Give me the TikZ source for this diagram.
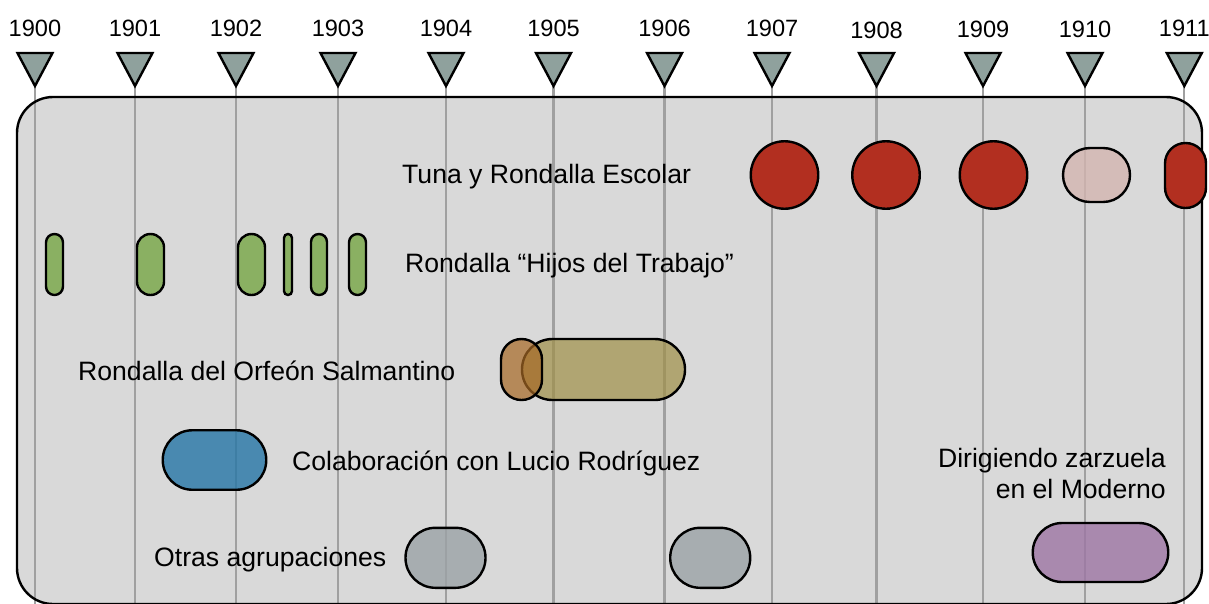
\documentclass[tikz,border=0pt]{standalone}
\usepackage{fontspec}
\setmainfont{Liberation Sans}
\definecolor{panel}{HTML}{D9D9D9}
\definecolor{linegray}{HTML}{A0A0A0}
\definecolor{trigray}{HTML}{8FA19D}
\definecolor{tunared}{HTML}{B22F20}
\definecolor{palered}{RGB}{211,181,176}
\definecolor{hijosgreen}{HTML}{8AB062}
\definecolor{olive}{RGB}{159,144,71}
\definecolor{brownish}{RGB}{166,104,36}
\definecolor{bluish}{RGB}{38,118,166}
\definecolor{grayish}{RGB}{155,162,166}
\definecolor{purplish}{RGB}{157,118,164}
\begin{document}
\begin{tikzpicture}[x=1pt,y=-1pt,
  pill/.style={draw=black, line width=2.4pt, inner sep=0pt, outer sep=0pt},
  lbl/.style={font=\fontsize{26.6}{31}\selectfont, inner sep=0pt},
  yrlbl/.style={font=\fontsize{23.6}{28}\selectfont, inner sep=0pt, anchor=base},
  vline/.style={draw=linegray, line width=2.3pt},
  tri/.style={fill=trigray, draw=black, line width=2.4pt, line join=miter}
]
\useasboundingbox (0,0) rectangle (1209,603);
% panel
\fill[panel, rounded corners=36pt] (17,97) rectangle (1202,604);
% year grid lines
\foreach \x in {35,135,236,338,446,553.5,664.5,772,876.5,983,1085,1184.3}{
  \draw[vline] (\x,70) -- (\x,606);
}
\draw[line width=2.4pt, rounded corners=36pt] (17,97) rectangle (1202,604);

% Tuna y Rondalla Escolar
\node[pill, circle, fill=tunared, minimum size=67.5pt] (t1907) at (784.5,175) {};
\node[pill, circle, fill=tunared, minimum size=67.5pt] (t1908) at (886,175) {};
\node[pill, circle, fill=tunared, minimum size=67.5pt] (t1909) at (993.5,175) {};
\node[pill, fill=palered, fill opacity=0.8, minimum width=67pt, minimum height=54pt, rounded corners=26.9pt] (t1910) at (1096.5,175) {};
\node[pill, fill=tunared, minimum width=41pt, minimum height=65pt, rounded corners=20.4pt] (t1911) at (1185.5,175.5) {};
\node[lbl, anchor=base west] (tuna) at (402,183) {Tuna y Rondalla Escolar};

% Rondalla Hijos del Trabajo
\foreach \cx/\w [count=\i] in {54.5/17, 150.5/27, 251.5/27, 288/8, 319/16, 357.5/17}{
  \node[pill, fill=hijosgreen, minimum width=\w pt, minimum height=61pt, rounded corners=\w/2*1pt-0.1pt] (h\i) at (\cx,264.5) {};
}
\node[lbl, anchor=base west] (hijos) at (405,272) {Rondalla “Hijos del Trabajo”};

% Orfeon
\node[pill, fill=olive, fill opacity=0.7, minimum width=163pt, minimum height=61pt, rounded corners=30.4pt] (orf2) at (603.5,369.5) {};
\node[pill, fill=brownish, fill opacity=0.7, minimum width=41pt, minimum height=61pt, rounded corners=20.4pt] (orf1) at (521.5,369.5) {};
\node[lbl, anchor=base west] (orfeon) at (78,380) {Rondalla del Orfeón Salmantino};

% Lucio Rodriguez
\node[pill, fill=bluish, fill opacity=0.8, minimum width=103.5pt, minimum height=59.5pt, rounded corners=29.6pt] (lucio) at (214.5,460) {};
\node[lbl, anchor=base west] (colab) at (292,470) {Colaboración con Lucio Rodríguez};

% Otras agrupaciones
\node[pill, fill=grayish, fill opacity=0.8, minimum width=80pt, minimum height=60pt, rounded corners=29.9pt] (otra1) at (445.5,557.8) {};
\node[pill, fill=grayish, fill opacity=0.8, minimum width=80pt, minimum height=60pt, rounded corners=29.9pt] (otra2) at (710.2,557.8) {};
\node[lbl, anchor=base west] (otras) at (154,566) {Otras agrupaciones};

% Zarzuela
\node[pill, fill=purplish, fill opacity=0.8, minimum width=135.5pt, minimum height=59pt, rounded corners=29.4pt] (zarz) at (1100.5,552.5) {};
\node[lbl, anchor=base east, align=right] (dirig) at (1166,498) {Dirigiendo zarzuela\\en el Moderno};

% year markers
\foreach \x/\yr/\b in {35/1900/36, 135/1901/36, 236/1902/36, 338/1903/36, 446/1904/36, 553.5/1905/36, 664.5/1906/36, 772/1907/36, 876.5/1908/38, 983/1909/37, 1085/1910/37, 1184.3/1911/36}{
  \draw[tri] (\x-17.5,53) -- (\x+17.5,53) -- (\x,86) -- cycle;
  \node[yrlbl] (y\yr) at (\x,\b) {\yr};
}
\end{tikzpicture}
\end{document}
